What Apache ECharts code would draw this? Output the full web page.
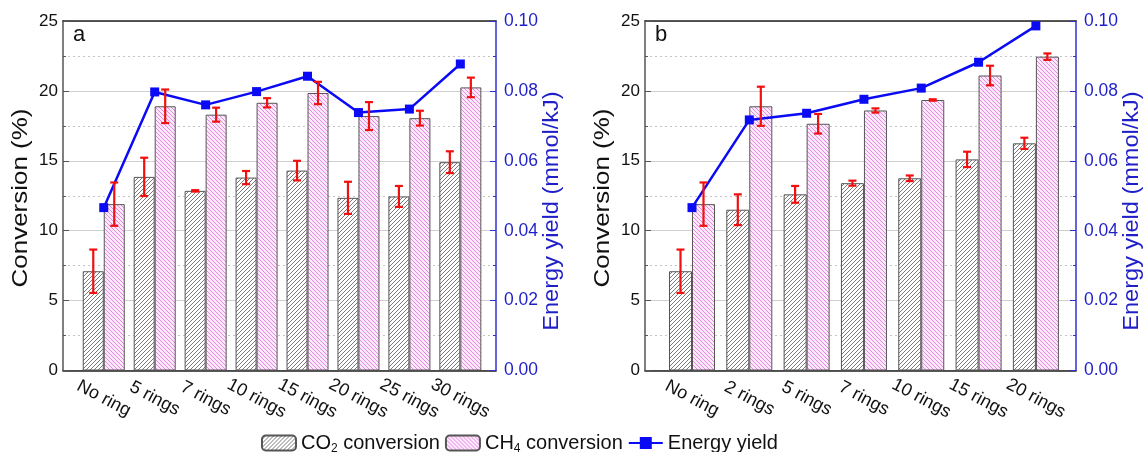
<!DOCTYPE html>
<html><head><meta charset="utf-8">
<script src="https://cdn.jsdelivr.net/npm/echarts@6/dist/echarts.min.js"></script>
<style>html,body{margin:0;padding:0;background:#fff}#c{width:1146px;height:452px}</style>
</head><body><div id="c"></div>
<script>
// ---- Data ----
const categoriesA = ['No ring','5 rings','7 rings','10 rings','15 rings','20 rings','25 rings','30 rings'];
const co2A    = [7.1, 13.85, 12.85, 13.8, 14.3, 12.35, 12.45, 14.9];
const co2ErrA = [1.55, 1.37, 0.05, 0.47, 0.7, 1.15, 0.75, 0.78];
const ch4A    = [11.9, 18.9, 18.3, 19.15, 19.85, 18.2, 18.05, 20.25];
const ch4ErrA = [1.55, 1.2, 0.5, 0.33, 0.8, 1.0, 0.53, 0.7];
const energyA = [0.0466, 0.0797, 0.0760, 0.0798, 0.0842, 0.0738, 0.0748, 0.0877];

const categoriesB = ['No ring','2 rings','5 rings','7 rings','10 rings','15 rings','20 rings'];
const co2B    = [7.1, 11.5, 12.6, 13.4, 13.75, 15.1, 16.25];
const co2ErrB = [1.55, 1.1, 0.6, 0.18, 0.2, 0.55, 0.4];
const ch4B    = [11.9, 18.9, 17.65, 18.6, 19.35, 21.1, 22.45];
const ch4ErrB = [1.55, 1.4, 0.7, 0.15, 0.05, 0.7, 0.23];
const energyB = [0.0466, 0.0717, 0.0736, 0.0776, 0.0808, 0.0882, 0.0986];

const panelLabels = ['a', 'b'];
const seriesNames = ['CO2 conversion', 'CH4 conversion', 'Energy yield'];
const leftTitle = 'Conversion (%)';
const rightTitle = 'Energy yield (mmol/kJ)';

// ---- Styles ----
const FONT = '"Liberation Sans", Arial, Helvetica, sans-serif';
const BLUE_TXT = '#1f1fc8';
const BLUE_LINE = '#0a0af5';
const BLUE_AXIS = '#3030d0';

function hatch(bg, fg, dir, size, lw) {
  const c = document.createElement('canvas');
  c.width = size; c.height = size;
  const g = c.getContext('2d');
  g.fillStyle = bg; g.fillRect(0, 0, size, size);
  g.strokeStyle = fg; g.lineWidth = lw;
  g.beginPath();
  if (dir > 0) {
    g.moveTo(0, size); g.lineTo(size, 0);
    g.moveTo(-size / 2, size / 2); g.lineTo(size / 2, -size / 2);
    g.moveTo(size / 2, size * 1.5); g.lineTo(size * 1.5, size / 2);
  } else {
    g.moveTo(0, 0); g.lineTo(size, size);
    g.moveTo(-size / 2, size / 2); g.lineTo(size / 2, size * 1.5);
    g.moveTo(size / 2, -size / 2); g.lineTo(size * 1.5, size / 2);
  }
  g.stroke();
  return { image: c, repeat: 'repeat' };
}
const co2Fill = hatch('#ffffff', '#7a7a7a', 1, 4, 1);
const ch4Fill = hatch('#fde9fb', '#e48ae0', -1, 4, 1);

const panels = [
  { cats: categoriesA, co2: co2A, co2E: co2ErrA, ch4: ch4A, ch4E: ch4ErrA, en: energyA,
    left: 63, width: 433, xmin: -0.8, xmax: 7.7, bw: 21 },
  { cats: categoriesB, co2: co2B, co2E: co2ErrB, ch4: ch4B, ch4E: ch4ErrB, en: energyB,
    left: 645, width: 431, xmin: -0.82, xmax: 6.7, bw: 23 }
];

const grid = [], xAxis = [], yAxis = [], series = [], graphic = [];

panels.forEach((p, k) => {
  grid.push({ left: p.left, width: p.width, top: 21, height: 349.5, containLabel: false });
  const idx = p.cats.map((_, i) => i);
  xAxis.push({
    type: 'value', gridIndex: k, min: p.xmin, max: p.xmax,
    axisLine: { show: true, onZero: false, lineStyle: { color: '#222', width: 1.5 } },
    axisTick: { show: false },
    splitLine: { show: false },
    axisLabel: {
      customValues: idx,
      formatter: v => p.cats[Math.round(v)],
      rotate: -28, align: 'center', verticalAlign: 'middle', margin: 28,
      fontSize: 18, color: '#111', fontFamily: FONT
    }
  });
  xAxis.push({
    type: 'value', gridIndex: k, min: p.xmin, max: p.xmax, position: 'top',
    axisLine: { show: true, onZero: false, lineStyle: { color: '#222', width: 1.5 } },
    axisTick: { show: false }, axisLabel: { show: false }, splitLine: { show: false }
  });
  yAxis.push({
    type: 'value', gridIndex: k, min: 0, max: 25, interval: 5, position: 'left',
    axisLine: { show: true, onZero: false, lineStyle: { color: '#555', width: 1.5 } },
    axisTick: { show: true, inside: true, length: 6, lineStyle: { color: '#555' } },
    minorTick: { show: true, splitNumber: 2, length: 3, lineStyle: { color: '#555' } },
    splitLine: { show: true, lineStyle: { color: '#cfcfcf', width: 1 } },
    minorSplitLine: { show: true, lineStyle: { color: '#c4c4c4', width: 1, type: [2, 3] } },
    axisLabel: { fontSize: 17, color: '#111', margin: 5, fontFamily: FONT }
  });
  yAxis.push({
    type: 'value', gridIndex: k, min: 0, max: 0.1, interval: 0.02, position: 'right',
    axisLine: { show: true, onZero: false, lineStyle: { color: BLUE_AXIS, width: 1.5 } },
    axisTick: { show: true, inside: true, length: 6, lineStyle: { color: BLUE_AXIS } },
    minorTick: { show: true, splitNumber: 2, length: 3, lineStyle: { color: BLUE_AXIS } },
    splitLine: { show: false },
    axisLabel: { fontSize: 17.5, color: BLUE_TXT, margin: 8, fontFamily: FONT,
      formatter: v => v.toFixed(2) }
  });
  const xi = k * 2, yl = k * 2, yr = k * 2 + 1;
  series.push({
    name: seriesNames[0], type: 'bar', xAxisIndex: xi, yAxisIndex: yl,
    barWidth: p.bw, barGap: '0%', z: 2,
    itemStyle: { color: co2Fill, borderColor: '#555', borderWidth: 1 },
    data: p.co2.map((v, i) => [i, v])
  });
  series.push({
    name: seriesNames[1], type: 'bar', xAxisIndex: xi, yAxisIndex: yl,
    barWidth: p.bw, barGap: '0%', z: 2,
    itemStyle: { color: ch4Fill, borderColor: '#555', borderWidth: 1 },
    data: p.ch4.map((v, i) => [i, v])
  });
  const errSeries = (vals, errs, off) => ({
    type: 'custom', xAxisIndex: xi, yAxisIndex: yl, z: 6, silent: true,
    data: vals.map((v, i) => [i, v, errs[i]]),
    renderItem: (params, api) => {
      const x = api.value(0), y = api.value(1), e = api.value(2);
      const hi = api.coord([x, y + e]), lo = api.coord([x, y - e]);
      const cx = hi[0] + off, cap = 4;
      const st = { stroke: '#f01010', lineWidth: 2.2 };
      return { type: 'group', children: [
        { type: 'line', shape: { x1: cx, y1: hi[1], x2: cx, y2: lo[1] }, style: st },
        { type: 'line', shape: { x1: cx - cap, y1: hi[1], x2: cx + cap, y2: hi[1] }, style: st },
        { type: 'line', shape: { x1: cx - cap, y1: lo[1], x2: cx + cap, y2: lo[1] }, style: st }
      ]};
    }
  });
  series.push(errSeries(p.co2, p.co2E, -p.bw / 2));
  series.push(errSeries(p.ch4, p.ch4E, p.bw / 2));
  series.push({
    name: seriesNames[2], type: 'line', xAxisIndex: xi, yAxisIndex: yr, z: 5,
    symbol: 'rect', symbolSize: 9,
    lineStyle: { color: BLUE_LINE, width: 2.5 },
    itemStyle: { color: BLUE_LINE },
    data: p.en.map((v, i) => [i, v])
  });
  graphic.push({
    type: 'text', left: p.left + 10, top: 24,
    style: { text: panelLabels[k], fontSize: 22, fill: '#111', fontFamily: FONT }
  });
  // axis titles (stretched along their length, as in the reference)
  graphic.push({
    type: 'text', x: p.left - 42, y: 198, rotation: Math.PI / 2, scaleX: 1.18,
    style: { text: leftTitle, fontSize: 22, fill: '#111', fontFamily: FONT,
      align: 'center', verticalAlign: 'middle' }
  });
  graphic.push({
    type: 'text', x: p.left + p.width + 56, y: 211, rotation: Math.PI / 2, scaleX: 1.07,
    style: { text: rightTitle, fontSize: 22, fill: BLUE_TXT, fontFamily: FONT,
      align: 'center', verticalAlign: 'middle' }
  });
});

const chart = echarts.init(document.getElementById('c'), null, { renderer: 'canvas' });
chart.setOption({
  animation: false,
  backgroundColor: '#fff',
  grid, xAxis, yAxis, series, graphic,
  legend: {
    data: seriesNames, top: 428, left: 256,
    itemWidth: 34, itemHeight: 15, itemGap: 5,
    textStyle: {
      fontSize: 20, color: '#111', fontFamily: FONT, padding: [0, 0, 0, 0],
      rich: {
        a: { fontSize: 20, fontFamily: FONT, color: '#111', lineHeight: 24 },
        s: { fontSize: 12, fontFamily: FONT, color: '#111', lineHeight: 12, verticalAlign: 'bottom' }
      }
    },
    formatter: n => n === 'CO2 conversion' ? '{a|CO}{s|2}{a| conversion}'
                  : n === 'CH4 conversion' ? '{a|CH}{s|4}{a| conversion}'
                  : '{a|' + n + '}'
  }
});
</script>
</body></html>
